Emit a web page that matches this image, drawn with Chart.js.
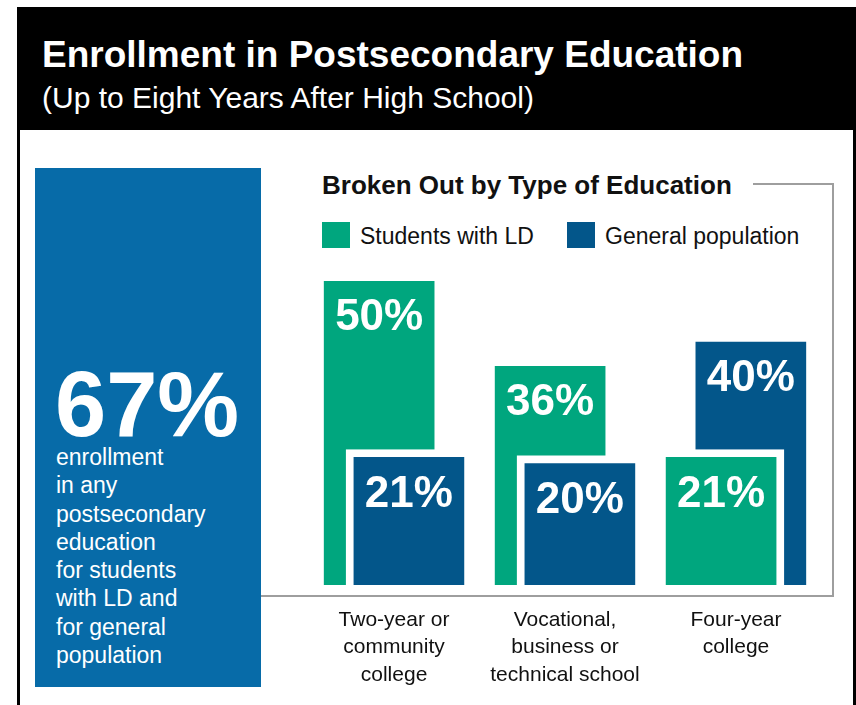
<!DOCTYPE html>
<html>
<head>
<meta charset="utf-8">
<script src="https://cdn.jsdelivr.net/npm/chart.js@4/dist/chart.umd.min.js"></script>
<style>
  html, body { margin: 0; padding: 0; background: #fff; }
  body { width: 856px; height: 705px; position: relative; overflow: hidden;
         font-family: "Liberation Sans", Arial, Helvetica, sans-serif; }
  .frame { position: absolute; left: 17px; top: 7px; width: 833px; height: 720px;
           border: 3px solid #000; border-top: none; }
  .header { position: absolute; left: 17px; top: 7px; width: 839px; height: 123px; background: #000; }
  .title { position: absolute; left: 42px; top: 35px; color: #fff; font-weight: bold;
           font-size: 37px; line-height: 40px; white-space: nowrap; }
  .subtitle { position: absolute; left: 42px; top: 81px; color: #fff;
              font-size: 30px; line-height: 34px; white-space: nowrap; }
  .bigbox { position: absolute; left: 35px; top: 168px; width: 226px; height: 519px; background: #076ba8; }
  .bignum { position: absolute; left: 55px; top: 358px; color: #fff; font-weight: bold;
            font-size: 92px; line-height: 92px; }
  .bigtext { position: absolute; left: 56px; top: 443px; color: #fff;
             font-size: 23px; line-height: 28.3px; }
  .subhead { position: absolute; left: 322px; top: 170px; font-weight: bold;
             font-size: 26px; line-height: 30px; color: #111; white-space: nowrap; }
  .legend { position: absolute; top: 222px; height: 26px; }
  .legend .sw { position: absolute; left: 0; top: 0; width: 28px; height: 26px; }
  .legend .lb { position: absolute; left: 38px; top: 1px; font-size: 23px; line-height: 26px;
                color: #111; white-space: nowrap; }
  .gline { position: absolute; background: #9e9e9e; }
  #wrap { position: absolute; left: 300px; top: 250px; width: 540px; height: 450px; }
</style>
</head>
<body>
<div class="header"></div>
<div class="frame"></div>
<div class="title">Enrollment in Postsecondary Education</div>
<div class="subtitle">(Up to Eight Years After High School)</div>

<div class="bigbox"></div>
<div class="bignum" id="bignum"></div>
<div class="bigtext" id="bigtext"></div>

<div class="gline" style="left:753px; top:183px; width:81px; height:2px;"></div>
<div class="gline" style="left:832px; top:183px; width:2px; height:414px;"></div>
<div class="gline" style="left:261px; top:595px; width:573px; height:2px;"></div>

<div class="subhead">Broken Out by Type of Education</div>
<div id="legend"></div>

<div id="wrap"><canvas id="chart"></canvas></div>

<script>
// overall enrollment figure in the side panel
const overallValue = 67;
const overallText = ["enrollment", "in any", "postsecondary", "education", "for students",
                     "with LD and", "for general", "population"];

// breakdown by type of education
const categories = [
    ["Two-year or", "community", "college"],
    ["Vocational,", "business or", "technical school"],
    ["Four-year", "college"]
];
const seriesNames = ["Students with LD", "General population"];
const ldValues = [50, 36, 21];
const genValues = [21, 20, 40];
const seriesColors = ["#00a67e", "#03568a"];

document.getElementById("bignum").textContent = overallValue + "%";
document.getElementById("bigtext").innerHTML = overallText.join("<br>");

let legendHtml = "";
const legendX = [322, 567];
seriesNames.forEach((name, i) => {
    legendHtml += '<div class="legend" style="left:' + legendX[i] + 'px">' +
        '<div class="sw" style="background:' + seriesColors[i] + '"></div>' +
        '<div class="lb">' + name + '</div></div>';
});
document.getElementById("legend").innerHTML = legendHtml;

// the two bars of a group overlap; the shorter one sits in front
const shift = 0.087;
let back = [], front = [], backColors = [], frontColors = [];
categories.forEach((c, i) => {
    let ld = { x: i - shift, y: ldValues[i] };
    let gen = { x: i + shift, y: genValues[i] };
    if (ldValues[i] >= genValues[i]) {
        back.push(ld); backColors.push(seriesColors[0]);
        front.push(gen); frontColors.push(seriesColors[1]);
    } else {
        back.push(gen); backColors.push(seriesColors[1]);
        front.push(ld); frontColors.push(seriesColors[0]);
    }
});

// white gap around the front bars
const haloPlugin = {
    id: "halo",
    beforeDatasetDraw(chart, args) {
        if (args.index !== 1) return;
        const ctx = chart.ctx;
        const gap = 8;
        ctx.save();
        ctx.fillStyle = "#fff";
        args.meta.data.forEach(bar => {
            const p = bar.getProps(["x", "y", "base", "width"], true);
            ctx.fillRect(p.x - p.width / 2 - gap, p.y - gap, p.width + gap * 2, p.base - p.y + gap);
        });
        ctx.restore();
    }
};

// percentage inside the top of each bar
const valueLabels = {
    id: "valueLabels",
    afterDatasetsDraw(chart) {
        const ctx = chart.ctx;
        ctx.save();
        ctx.fillStyle = "#fff";
        ctx.font = "bold 44px 'Liberation Sans', Arial, sans-serif";
        ctx.textAlign = "center";
        ctx.textBaseline = "middle";
        chart.data.datasets.forEach((ds, di) => {
            chart.getDatasetMeta(di).data.forEach((bar, i) => {
                const p = bar.getProps(["x", "y"], true);
                ctx.fillText(ds.data[i].y + "%", p.x, p.y + 37);
            });
        });
        ctx.restore();
    }
};

new Chart(document.getElementById("chart"), {
    type: "bar",
    data: {
        datasets: [
            { label: "back", data: back, backgroundColor: backColors, order: 1 },
            { label: "front", data: front, backgroundColor: frontColors, order: 0 }
        ]
    },
    options: {
        responsive: true,
        maintainAspectRatio: false,
        animation: false,
        layout: { padding: { top: 10, right: 10, left: 0, bottom: 0 } },
        datasets: { bar: { barThickness: 110, grouped: false, borderWidth: 0 } },
        plugins: { legend: { display: false }, tooltip: { enabled: false } },
        scales: {
            x: {
                type: "linear",
                min: -0.55,
                max: 2.55,
                offset: false,
                grid: { display: false, drawTicks: false },
                border: { display: false },
                afterBuildTicks: axis => { axis.ticks = categories.map((c, i) => ({ value: i })); },
                afterFit: axis => { axis.height = 115; },
                ticks: {
                    autoSkip: false,
                    maxRotation: 0,
                    padding: 22,
                    color: "#111",
                    font: { family: "'Liberation Sans', Arial, sans-serif", size: 21, lineHeight: 1.29 },
                    callback: value => categories[value]
                }
            },
            y: {
                display: false,
                min: 0,
                max: 53.5
            }
        }
    },
    plugins: [haloPlugin, valueLabels]
});
</script>
</body>
</html>
